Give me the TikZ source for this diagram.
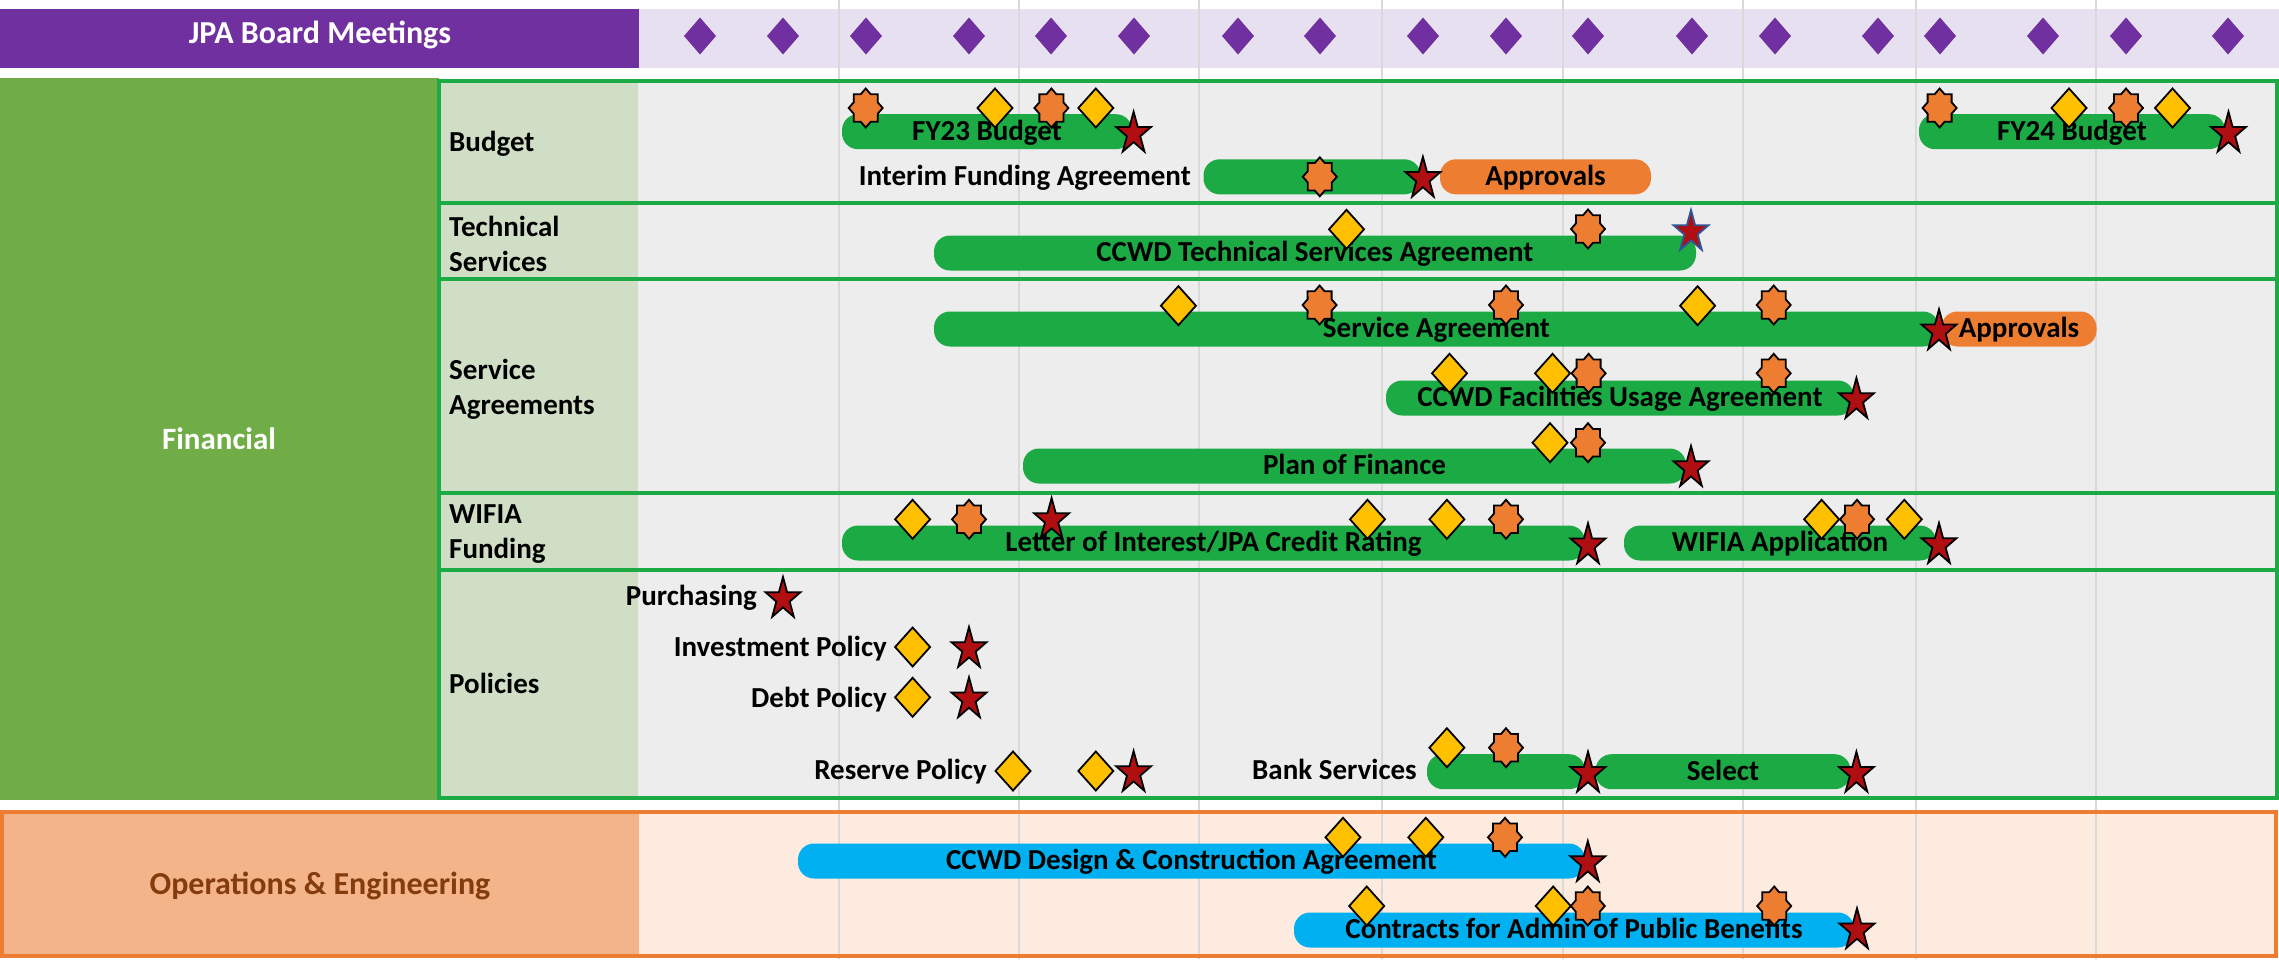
\documentclass[tikz,border=0pt]{standalone}
\usepackage{fontspec}
\setmainfont{Carlito}
\usetikzlibrary{shapes.geometric}

\definecolor{jpapurple}{HTML}{7030A0}
\definecolor{jpalilac}{HTML}{E7E0F0}
\definecolor{fingreen}{HTML}{70AD47}
\definecolor{lblgreen}{HTML}{D0DEC5}
\definecolor{rowgrey}{HTML}{EDEDED}
\definecolor{bargreen}{HTML}{1BAA44}
\definecolor{mkorange}{HTML}{ED7D31}
\definecolor{mkyellow}{HTML}{FFC000}
\definecolor{mkred}{HTML}{B00F12}
\definecolor{barblue}{HTML}{00B0F0}
\definecolor{oplabel}{HTML}{F4B48A}
\definecolor{oplight}{HTML}{FDEBE0}
\definecolor{opbrown}{HTML}{843C0C}
\definecolor{gridgrey}{HTML}{D9D9D9}
\definecolor{starblue}{HTML}{2F5597}

\begin{document}
\begin{tikzpicture}[x=1pt, y=-1pt,
    txt/.style={font=\fontsize{29}{35}\selectfont\bfseries, inner sep=0pt, text height=19pt, text depth=2pt},
    bigtxt/.style={txt, font=\fontsize{32}{38}\selectfont\bfseries, text height=21pt},
    lbl/.style={font=\fontsize{29}{35}\selectfont\bfseries, inner sep=0pt, align=left, anchor=west},
    bar/.style={txt, minimum height=35pt, rounded corners=16pt, fill=bargreen},
    obar/.style={bar, fill=mkorange},
    bbar/.style={bar, fill=barblue},
    rowline/.style={draw=bargreen, line width=3.5pt},
    gridline/.style={draw=gridgrey, line width=1.5pt},
    mkline/.style={draw=black, line width=1.8pt, line join=miter},
    pdia/.pic={\fill[jpapurple] (0,-18.5) -- (16,0) -- (0,18.5) -- (-16,0) -- cycle;},
    ydia/.pic={\draw[mkline, fill=mkyellow] (0,-19.5) -- (17.5,0) -- (0,19.5) -- (-17.5,0) -- cycle;},
    ostar/.pic={\draw[mkline, fill=mkorange] (0,-19.5) \foreach \k in {0,...,7}{ -- ({-67.5+45*\k}:13 and 14.9) -- ({-45+45*\k}:17 and 19.5)} -- cycle;},
    rstar/.pic={\draw[mkline, fill=mkred, shift={(0,2)}] (0,-22) \foreach \k in {0,...,4}{ -- ({-54+72*\k}:7 and 8.4) -- ({-18+72*\k}:18.4 and 22)} -- cycle;},
    bstar/.pic={\draw[mkline, draw=starblue, fill=mkred, shift={(0,2)}] (0,-22) \foreach \k in {0,...,4}{ -- ({-54+72*\k}:7 and 8.4) -- ({-18+72*\k}:18.4 and 22)} -- cycle;}
  ]
  \useasboundingbox (0,0) rectangle (2279,959);

  % 绘制 顶部会议条
  \fill[jpapurple] (0,9) rectangle (639,68);
  \fill[jpalilac] (639,9) rectangle (2279,68);

  % 绘制 背景区域
  \fill[fingreen] (0,78) rectangle (439,800);
  \fill[lblgreen] (439,81) rectangle (638,798);
  \fill[rowgrey] (638,81) rectangle (2277,798);
  \fill[oplabel] (2,812) rectangle (639,956);
  \fill[oplight] (639,812) rectangle (2276,956);

  % 绘制 月份网格线
  \foreach \gx in {839,1019,1199,1382,1563,1743,1916,2096}
    \draw[gridline] (\gx,0) -- (\gx,959);

  % 绘制 边框和分隔线
  \draw[rowline] (439,81) rectangle (2277,798);
  \foreach \ry in {203,279,493,570}
    \draw[rowline] (439,\ry) -- (2277,\ry);
  \draw[draw=mkorange, line width=3.5pt] (2,812) rectangle (2276,956);

  % 绘制 标题和行标签
  \node[bigtxt, text=white] (board) at (320,34) {JPA Board Meetings};
  \node[bigtxt, text=white, font=\fontsize{31}{37}\selectfont\bfseries] (fin) at (219,440) {Financial};
  \node[txt, anchor=west] (budget) at (449,143) {Budget};
  \node[lbl] (tech) at (449,244) {Technical\\Services};
  \node[lbl] (svc) at (449,389) {Service\\Agreements};
  \node[lbl] (wifia) at (449,534) {WIFIA\\Funding};
  \node[txt, anchor=west] (pol) at (449,685) {Policies};
  \node[bigtxt, text=opbrown] (ops) at (320,885) {Operations \& Engineering};

  % 绘制 任务名称
  \node[txt, anchor=east] (interimlbl) at (1191,177) {Interim Funding Agreement};
  \node[txt, anchor=east] (purch) at (757,597) {Purchasing};
  \node[txt, anchor=east] (invest) at (887,648) {Investment Policy};
  \node[txt, anchor=east] (debt) at (887,699) {Debt Policy};
  \node[txt, anchor=east] (reserve) at (987,771) {Reserve Policy};
  \node[txt, anchor=east] (banklbl) at (1417,771) {Bank Services};

  % 绘制 任务条
  \node[bar, minimum width=290pt] (fy23) at (987,131.7) {FY23 Budget};
  \node[bar, minimum width=306pt] (fy24) at (2072,131.7) {FY24 Budget};
  \node[bar, minimum width=217pt] (interim) at (1312,176.8) {};
  \node[obar, minimum width=211pt] (appr1) at (1545.5,176.8) {Approvals};
  \node[bar, minimum width=762pt] (techsa) at (1315,253) {CCWD Technical Services Agreement};
  \node[bar, minimum width=1005pt] (svcag) at (1436.5,329) {Service Agreement};
  \node[obar, minimum width=155pt] (appr2) at (2019,329) {Approvals};
  \node[bar, minimum width=468pt] (facil) at (1620,398) {CCWD Facilities Usage Agreement};
  \node[bar, minimum width=663pt] (plan) at (1354.5,466) {Plan of Finance};
  \node[bar, minimum width=743pt] (letter) at (1213.5,543) {Letter of Interest/JPA Credit Rating};
  \node[bar, minimum width=312pt] (wapp) at (1780,543) {WIFIA Application};
  \node[bar, minimum width=158pt] (bank) at (1506,771.7) {};
  \node[bar, minimum width=255pt] (select) at (1723,771.7) {Select};
  \node[bbar, minimum width=787pt] (design) at (1191.5,861) {CCWD Design \& Construction Agreement};
  \node[bbar, minimum width=560pt] (contr) at (1574,930) {Contracts for Admin of Public Benefits};

  % 绘制 会议标记
  \foreach \mx in {700,783,866,969,1051,1134,1238,1320,1423,1506,1588,1692,1775,1878,1940,2043,2126,2228}
    \pic at (\mx,36) {pdia};

  % 绘制 黄色菱形
  \foreach \mx/\my in {995/108, 1095.8/108, 2069/108, 2172.5/108, 1346.5/229.3,
      1178.4/305.7, 1697.6/305.7, 1449.5/373.3, 1552.5/373.3, 1550/442.7,
      912.6/519.3, 1367.5/519.3, 1446.9/519.3, 1821.6/519.3, 1904.3/519.3,
      912.6/647, 912.6/697.3, 1013/771, 1095.8/771, 1446.9/747.7,
      1343/837.3, 1425.8/837.3, 1366.7/906, 1553.2/906}
    \pic at (\mx,\my) {ydia};

  % 绘制 橙色星形
  \foreach \mx/\my in {865.7/108, 1051.4/108, 1939.6/108, 2126/108, 1319.8/176.8,
      1588/229, 1319.6/305, 1506/305, 1773.7/305, 1588.6/373.3, 1773.7/373.3,
      1588/442.7, 969/519.3, 1506/519.3, 1857/519.3, 1506/747.7,
      1505/837.3, 1587.8/906, 1774.2/906}
    \pic at (\mx,\my) {ostar};

  % 绘制 红色五角星
  \foreach \mx/\my in {1133.6/131.7, 2228.5/131.7, 1422.9/176.8, 1939/329.3,
      1856.4/398, 1691/466, 1051.6/518, 1588/543.3, 1939/543, 783/597,
      969/647, 969/697.3, 1133.6/771, 1588/771.7, 1856.4/771.7,
      1587.8/861, 1857/928.3}
    \pic at (\mx,\my) {rstar};
  \pic at (1691,230) {bstar};
\end{tikzpicture}
\end{document}
